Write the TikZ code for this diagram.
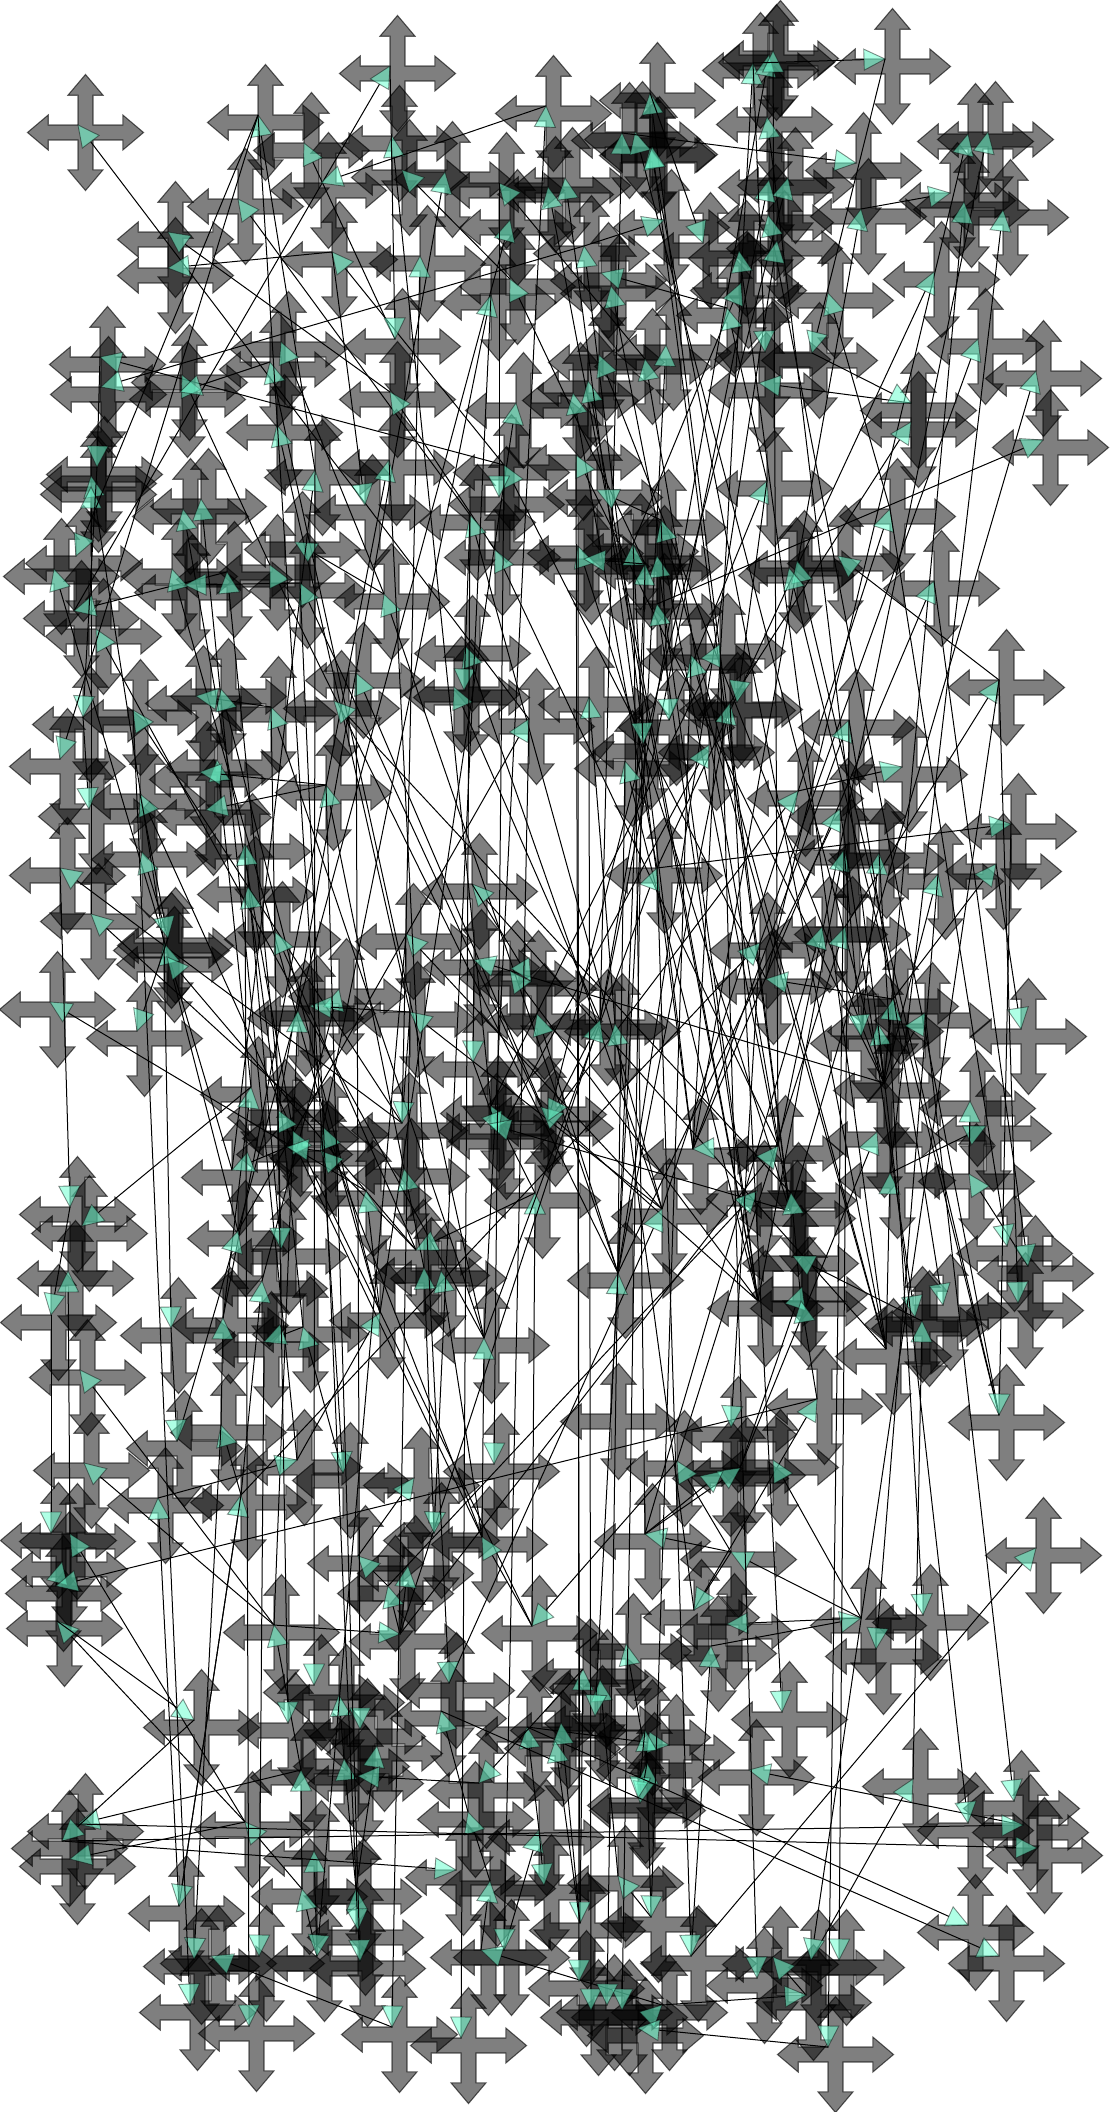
\documentclass[tikz,border=0pt]{standalone}
\usetikzlibrary{calc}
\definecolor{headgreen}{RGB}{110,255,208}
\tikzset{
  crossshape/.style={fill=black,fill opacity=.5,draw=black,draw opacity=.6,line width=1.1pt,line join=miter},
  edgeline/.style={draw=black,line width=1pt},
  headtri/.style={fill=headgreen,fill opacity=.55,draw=black,draw opacity=.45,line width=.9pt,line join=miter}
}
\newcommand{\crosspoly}{(58,0)--(37.3,17.5)--(37.3,7.5)--(7.5,7.5)--(7.5,37.3)--(17.5,37.3)--(0,58)--(-17.5,37.3)--(-7.5,37.3)--(-7.5,7.5)--(-37.3,7.5)--(-37.3,17.5)--(-58,0)--(-37.3,-17.5)--(-37.3,-7.5)--(-7.5,-7.5)--(-7.5,-37.3)--(-17.5,-37.3)--(0,-58)--(17.5,-37.3)--(7.5,-37.3)--(7.5,-7.5)--(37.3,-7.5)--(37.3,-17.5)--cycle}
\begin{document}
\begin{tikzpicture}[x=1pt,y=-1pt]
\useasboundingbox (0,0) rectangle (1113,2112);
\fill[white] (0,0) rectangle (1113,2112);
\foreach \i/\x/\y in {
1/78/125,2/258/115,3/390/66,4/392/136,5/304/143,6/321/183,7/402/170,8/445/172,9/546/106,10/499/183,11/548/187,12/238/199,13/168/232,14/168/268,15/332/252,16/420/256,17/510/220,18/510/279,19/491/295,20/395/339,21/281/342,22/270/362,23/100/357,24/101/387,25/182/375,26/180/392,27/390/392,28/516/403,
29/650/93,30/622/133,31/635/132,32/650/148,352/652/147,33/753/63,34/769/55,353/773/51,35/885/59,36/767/117,37/968/134,38/988/132,39/856/163,40/788/178,41/769/180,42/950/193,43/964/202,44/861/209,45/1003/210,46/768/215,47/703/243,48/777/241,49/739/251,50/584/246,51/601/273,52/611/286,53/741/283,54/828/293,55/727/308,56/765/352,57/812/353,58/934/272,59/978/339,60/1036/371,61/666/345,62/645/359,63/599/355,64/759/383,65/588/381,354/573/393,66/664/220,67/565/178,68/911/403,131/911/422,
70/277/425,71/97/467,72/91/476,73/91/487,74/183/509,75/201/499,76/295/542,77/315/470,78/365/505,79/389/460,80/504/465,81/499/497,82/470/515,83/495/550,84/76/556,85/54/569,86/74/611,87/96/629,88/172/569,89/185/585,90/227/572,91/270/565,92/300/583,93/384/594,95/465/646,96/464/690,97/454/687,98/356/673,99/334/701,100/271/707,101/196/696,102/221/689,103/83/717,104/133/710,105/529/719,107/60/759,108/89/809,109/140/794,110/217/760,111/200/772,112/206/810,113/326/785,
115/576/455,116/597/490,117/661/520,118/633/544,119/578/546,120/584/559,121/657/556,122/645/564,123/657/604,124/767/481,125/890/509,126/797/561,127/789/568,128/838/556,129/934/581,130/1043/440,132/720/644,133/691/655,134/737/702,135/730/703,136/669/720,137/589/697,138/643/744,139/709/745,140/625/761,141/849/720,142/902/767,143/798/791,144/840/809,145/999/680,146/1011/824,
147/60/868,148/91/914,149/142/852,150/245/844,151/248/887,152/168/938,153/164/943,154/167/957,155/50/1002,156/137/1031,157/275/932,158/472/884,159/406/934,160/474/960,161/531/981,162/510/971,163/339/989,164/310/1006,165/298/1011,166/410/1012,167/537/1014,168/473/1062,169/251/1087,170/278/1110,171/402/1123,172/491/1106,173/499/1134,174/489/1124,175/541/1107,176/548/1121,177/293/1131,178/287/1147,179/323/1127,180/321/1151,181/232/1170,182/404/1169,183/366/1191,184/70/1207,185/82/1226,186/238/1231,187/281/1249,188/416/1250,189/535/1193,
190/657/868,191/844/850,192/879/853,193/938/874,194/996/864,195/822/927,196/845/927,197/760/943,198/766/979,199/893/999,200/861/1036,201/878/1024,202/925/1013,203/1021/1029,204/600/1020,205/615/1024,206/986/1126,207/970/1101,208/877/1132,209/969/1174,210/778/1146,211/757/1191,212/791/1193,213/662/1209,214/890/1173,215/693/1149,216/1007/1246,217/1028/1266,218/793/1256,
219/68/1271,220/51/1315,221/171/1328,222/223/1318,223/262/1281,224/303/1327,225/264/1342,226/380/1313,227/424/1268,355/441/1271,228/484/1338,229/80/1370,230/221/1425,231/177/1441,232/84/1463,233/297/1460,234/343/1473,235/414/1478,236/494/1464,237/158/1498,238/241/1495,239/434/1533,240/51/1533,241/70/1534,242/62/1562,243/56/1586,244/57/1621,245/482/1537,246/358/1556,247/408/1566,248/388/1586,249/400/1634,250/274/1625,251/314/1685,252/449/1683,253/532/1626,
254/618/1273,255/802/1287,256/801/1301,257/943/1305,258/915/1317,259/922/1321,260/1018/1303,261/817/1399,262/999/1415,263/731/1427,264/677/1461,265/740/1468,266/723/1471,267/773/1460,268/645/1534,269/731/1552,270/694/1610,271/727/1624,272/861/1618,273/923/1615,274/876/1649,276/1036/1548,277/626/1644,278/711/1646,279/583/1669,280/600/1680,
282/194/1720,283/288/1723,284/360/1729,285/339/1695,286/441/1711,287/527/1727,288/377/1746,289/344/1759,290/358/1776,291/301/1770,292/479/1783,293/245/1822,294/78/1824,295/62/1841,296/70/1859,297/468/1812,298/539/1830,299/314/1851,300/456/1870,301/490/1881,302/356/1889,303/302/1889,304/358/1930,305/179/1906,306/317/1956,307/360/1961,308/194/1959,309/211/1956,310/259/1956,311/190/2005,312/249/2026,313/392/2027,314/461/2038,315/504/1950,316/481/1950,
318/782/1712,319/749/1770,320/913/1779,321/1014/1801,322/968/1823,323/1023/1825,324/1037/1848,325/669/1745,326/645/1730,327/647/1763,328/640/1803,329/638/1798,330/618/1876,331/544/1885,332/580/1923,333/651/1917,334/691/1956,335/811/1960,336/757/1978,337/773/1957,338/839/1960,339/806/1995,340/828/2047,341/579/1981,342/591/2010,343/622/2010,344/607/2005,345/662/2005,346/638/2028,347/968/1925,348/999/1956,349/595/1716,350/561/1723,351/555/1741,
361/884/1083,362/611/1414,363/758/1301,364/886/1349,365/790/1211}
{
  \coordinate (n\i) at (\x,\y);
  \path[crossshape,shift={(\x+7.5,\y+7.5)}] \crosspoly;
}
\foreach \t/\s in {
1/105,2/77,3/86,4/172,5/20,6/9,7/18,8/170,9/228,10/62,11/363,12/82,13/27,14/15,15/80,16/171,17/186,18/122,19/179,20/3,21/93,22/228,23/80,24/50,25/91,26/22,27/83,28/226,
29/365,30/204,31/361,32/364,352/365,33/215,34/204,353/210,35/33,36/361,37/198,38/210,39/30,40/176,41/204,42/44,43/361,44/215,45/214,46/262,47/29,48/254,49/364,50/215,51/55,52/210,53/118,54/125,55/124,56/33,57/35,58/190,59/197,60/365,61/254,62/365,63/361,64/68,65/363,354/190,66/50,67/215,68/57,131/135,
70/166,71/23,72/153,73/148,74/177,75/233,76/93,77/181,78/15,79/222,80/198,81/10,82/213,83/210,84/2,85/181,86/90,87/228,88/226,89/92,90/224,91/254,92/175,93/254,95/213,96/82,97/204,98/176,99/212,100/228,101/100,102/226,103/71,104/171,105/186,107/2,108/103,109/177,110/169,111/113,112/113,113/182,
115/361,116/117,117/364,118/268,119/365,120/122,121/363,122/254,123/363,124/136,125/213,126/262,127/262,128/145,129/215,130/123,132/172,133/364,134/124,135/254,136/117,137/205,138/118,139/173,140/363,141/215,142/143,143/176,144/254,145/196,146/190,
147/171,148/179,149/152,150/187,151/170,152/109,153/186,154/188,155/183,156/152,157/188,158/364,159/213,160/361,161/158,162/363,163/223,164/166,165/250,166/213,167/254,168/160,169/222,170/245,171/166,172/189,173/168,174/365,175/363,176/204,177/253,178/180,179/245,180/188,181/178,182/227,183/226,184/147,185/169,186/231,187/170,188/189,189/253,
190/228,191/363,192/200,193/361,194/199,195/268,196/264,197/238,198/199,199/361,200/191,201/361,202/361,203/194,204/249,205/270,206/214,207/209,208/265,209/217,210/249,211/248,212/256,213/252,214/364,215/210,216/125,217/129,218/259,
219/241,220/184,221/153,222/230,223/238,224/234,225/224,226/233,227/239,355/245,228/245,229/250,230/238,231/221,232/250,233/237,234/2,235/246,236/80,237/305,238/305,239/19,240/220,241/293,242/243,243/261,244/293,245/253,246/248,247/249,248/249,249/250,250/291,251/77,252/79,253/264,
254/362,255/265,256/261,257/141,258/144,259/320,260/145,261/270,262/146,263/197,264/269,265/268,266/268,267/272,268/269,269/272,270/269,271/272,272/278,273/192,274/193,276/334,277/327,278/334,279/332,280/330,
282/244,283/100,284/98,285/289,286/297,287/298,288/302,289/302,290/292,291/303,292/279,293/303,294/291,295/282,296/293,297/301,298/315,299/306,300/295,301/316,302/307,303/306,304/92,305/238,306/159,307/113,308/230,309/313,310/225,311/104,312/150,313/166,314/82,315/105,316/345,
318/135,319/323,320/335,321/202,322/201,323/295,324/294,325/287,326/327,327/333,328/327,329/326,330/333,331/298,332/115,333/133,334/190,335/145,336/132,337/339,338/141,339/345,340/191,341/119,342/137,343/122,344/140,345/346,346/340,347/287,348/286,349/254,350/332,351/332}
{
  \draw[edgeline] (n\s) -- ($(n\t)!21pt!(n\s)$);
  \path[headtri] (n\t) -- ($(n\t)!21pt!(n\s)!10.5pt!90:(n\s)$) -- ($(n\t)!21pt!(n\s)!10.5pt!-90:(n\s)$) -- cycle;
}
\end{tikzpicture}
\end{document}
